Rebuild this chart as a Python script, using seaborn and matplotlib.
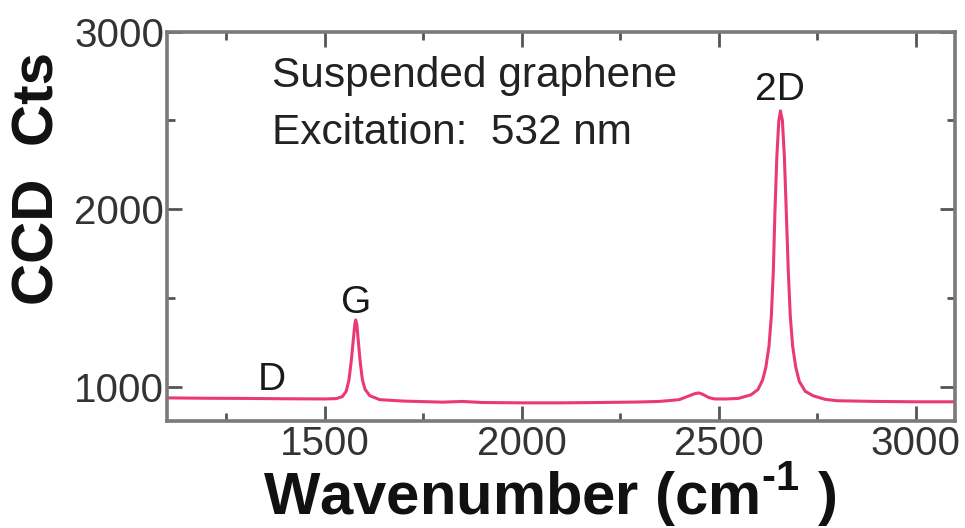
import matplotlib
matplotlib.use("Agg")
import matplotlib.pyplot as plt
from matplotlib.ticker import MultipleLocator
import seaborn as sns
import pandas as pd

# Raman spectrum of suspended graphene (532 nm excitation)
wavenumber = [1100, 1200, 1300, 1400, 1500, 1530, 1545, 1555, 1562, 1568, 1573,
              1577, 1579, 1582, 1586, 1590, 1596, 1603, 1615, 1640, 1700, 1800,
              1850, 1900, 2000, 2100, 2200, 2300, 2350, 2400, 2420, 2440, 2450,
              2460, 2475, 2490, 2520, 2550, 2582, 2600, 2612, 2620, 2628, 2634,
              2639, 2643, 2648, 2653, 2657, 2662, 2667, 2672, 2677, 2682, 2688,
              2696, 2705, 2720, 2740, 2770, 2800, 2900, 3000, 3100]
counts = [938, 936, 935, 933, 932, 934, 945, 975, 1040, 1150, 1265,
          1355, 1377, 1350, 1250, 1150, 1040, 985, 950, 928, 920, 914,
          918, 912, 910, 910, 912, 915, 918, 928, 945, 962, 966,
          958, 940, 932, 932, 935, 955, 985, 1040, 1110, 1230, 1400,
          1650, 1980, 2300, 2500, 2554, 2500, 2300, 1980, 1650, 1400, 1230,
          1110, 1030, 975, 950, 930, 922, 918, 916, 916]

peak_names = ["D", "G", "2D"]
peak_pos = [1365, 1579, 2657]
peak_label_y = [1040, 1470, 2670]

x_ticks = [1500, 2000, 2500, 3000]
y_ticks = [1000, 2000, 3000]

df = pd.DataFrame({"wavenumber": wavenumber, "counts": counts})

sns.set_style("ticks")
plt.rcParams["font.family"] = ["Liberation Sans", "DejaVu Sans"]
# mathtext is only used for the bold axis-label superscript
plt.rcParams["mathtext.fontset"] = "custom"
plt.rcParams["mathtext.rm"] = "Liberation Sans:bold"
plt.rcParams["mathtext.bf"] = "Liberation Sans:bold"

fig = plt.figure(figsize=(9.65, 5.28), dpi=100)
ax = fig.add_axes([0.173, 0.2027, 0.8166, 0.7373])

sns.lineplot(data=df, x="wavenumber", y="counts", ax=ax, sort=False,
             color="#ea3a74", linewidth=2.2)

ax.set_xlim(1100, 3100)
ax.set_ylim(808, 3000)
ax.set_xticks(x_ticks)
ax.set_yticks(y_ticks)
ax.xaxis.set_minor_locator(MultipleLocator(250))
ax.yaxis.set_minor_locator(MultipleLocator(500))

spine_color = "#7a7a7a"
for s in ax.spines.values():
    s.set_color(spine_color)
    s.set_linewidth(2.6)

ax.tick_params(which="both", direction="in", top=True, right=True,
               color="#555555", labelcolor="#333333", labelsize=29)
ax.tick_params(which="major", length=11, width=2)
ax.tick_params(which="minor", length=6, width=2)
ax.tick_params(axis="y", pad=2)
ax.tick_params(axis="x", pad=3)

ax.set_xlabel(r"Wavenumber (cm$^{\text{-1}}$ )", fontsize=43, fontweight="bold",
              color="#111111", va="center")
ax.xaxis.set_label_coords(0.486, -0.19)
ax.set_ylabel("CCD  Cts", fontsize=42, fontweight="bold", color="#111111",
              va="center")
ax.yaxis.set_label_coords(-0.163, 0.622)

for name, xp, yp in zip(peak_names, peak_pos, peak_label_y):
    ax.text(xp, yp, name, ha="center", va="center", fontsize=28, color="#1a1a1a")

ax.text(0.133, 0.885, "Suspended graphene", transform=ax.transAxes,
        ha="left", va="center", fontsize=30.5, color="#222222")
ax.text(0.133, 0.74, "Excitation:  532 nm", transform=ax.transAxes,
        ha="left", va="center", fontsize=30.5, color="#222222")

fig.savefig("out.png", dpi=100)
